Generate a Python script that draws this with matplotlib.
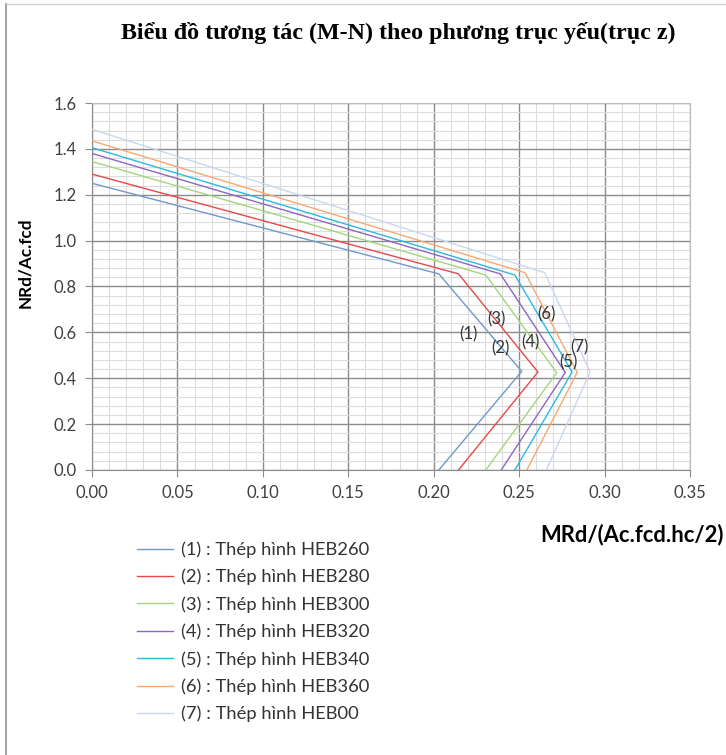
import matplotlib
matplotlib.use("Agg")
import numpy as np
from matplotlib import pyplot as plt
from matplotlib.lines import Line2D
from matplotlib.ticker import MultipleLocator

# N/M interaction points
labels = ["(1) : Thép hình HEB260", "(2) : Thép hình HEB280", "(3) : Thép hình HEB300",
          "(4) : Thép hình HEB320", "(5) : Thép hình HEB340", "(6) : Thép hình HEB360",
          "(7) : Thép hình HEB00"]
tags = ["(1)", "(2)", "(3)", "(4)", "(5)", "(6)", "(7)"]
n_top = [1.25, 1.29, 1.345, 1.38, 1.405, 1.435, 1.485]      # M = 0
m_knee = [0.203, 0.2145, 0.2305, 0.239, 0.2475, 0.2535, 0.265]
n_knee = [0.855, 0.855, 0.85, 0.855, 0.85, 0.86, 0.86]
m_peak = [0.2515, 0.261, 0.272, 0.277, 0.281, 0.284, 0.2915]
n_peak = [0.43, 0.427, 0.424, 0.425, 0.427, 0.425, 0.427]
m_base = [0.203, 0.2145, 0.2305, 0.2395, 0.2475, 0.2545, 0.266]  # N = 0
tag_m = [0.2205, 0.239, 0.237, 0.2565, 0.279, 0.266, 0.285]
tag_n = [0.592, 0.529, 0.655, 0.556, 0.47, 0.68, 0.534]

colors = ["#7098cc", "#e8474a", "#a2d67c", "#8c68bf", "#2db9dc", "#f7a870", "#c9d7ee"]

fig = plt.figure(figsize=(7.26, 7.55), dpi=100)
ax = fig.add_axes([92 / 726, 1 - 470 / 755, 598 / 726, 367 / 755])

for i in range(len(labels)):
    xs = [0, m_knee[i], m_peak[i], m_base[i]]
    ys = [n_top[i], n_knee[i], n_peak[i], 0]
    ax.plot(xs, ys, color=colors[i], lw=1.0, label=labels[i], zorder=3)
    ax.text(tag_m[i], tag_n[i], tags[i], fontsize=12, family="Lato",
            color="#333333", ha="center", va="center", zorder=4)

ax.set_xlim(0, 0.35)
ax.set_ylim(0, 1.6)
ax.xaxis.set_major_locator(MultipleLocator(0.05))
ax.xaxis.set_minor_locator(MultipleLocator(0.01))
ax.yaxis.set_major_locator(MultipleLocator(0.2))
ax.yaxis.set_minor_locator(MultipleLocator(0.04))
ax.xaxis.set_major_formatter(plt.FormatStrFormatter("%.2f"))
ax.yaxis.set_major_formatter(plt.FormatStrFormatter("%.1f"))

ax.grid(which="major", color="#8c8c8c", lw=1.0)
ax.grid(which="minor", color="#dcdcdc", lw=0.8)
ax.set_axisbelow(True)
for s in ax.spines.values():
    s.set_color("#bcbcbc")
ax.spines["left"].set_color("#8c8c8c")
ax.spines["bottom"].set_color("#8c8c8c")

ax.tick_params(which="major", length=5, color="#8c8c8c", labelsize=12, labelcolor="#404040", pad=6)
ax.tick_params(which="minor", length=0)
for t in ax.get_xticklabels() + ax.get_yticklabels():
    t.set_family("Lato")

fig.text(398 / 726, 1 - 33 / 755, "Biểu đồ tương tác (M-N) theo phương trục yếu(trục z)",
         family="Liberation Serif", weight="bold", fontsize=17.3, ha="center", va="center")
fig.text(25 / 726, 1 - 263 / 755, "NRd/Ac.fcd", family="Lato", weight="bold",
         fontsize=12.3, rotation=90, ha="center", va="center")
fig.text(724 / 726, 1 - 535 / 755, "MRd/(Ac.fcd.hc/2)", family="Lato", weight="bold",
         fontsize=15.8, ha="right", va="center")

leg = ax.legend(loc="upper left", bbox_to_anchor=(120 / 726, 1 - 525 / 755),
                bbox_transform=fig.transFigure, frameon=False, handlelength=2.0,
                handletextpad=0.45, labelspacing=0.59, prop={"family": "Lato", "size": 13.2})
for t in leg.get_texts():
    t.set_color("#333333")

# chart area border
fig.add_artist(Line2D([6 / 726, 6 / 726], [0, 1 - 4 / 755], color="#a6a6a6", lw=1.5))
fig.add_artist(Line2D([6 / 726, 1], [1 - 4 / 755, 1 - 4 / 755], color="#d0d0d0", lw=1.0))

fig.savefig("out.png", dpi=100)
